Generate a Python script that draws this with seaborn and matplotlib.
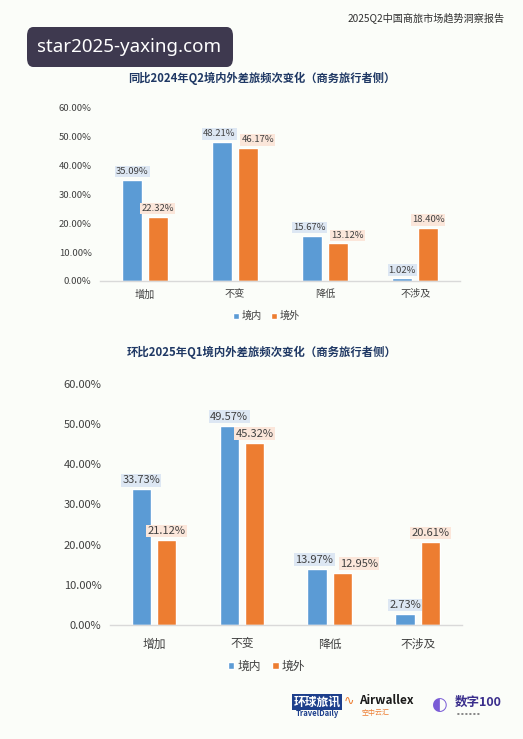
import matplotlib
matplotlib.use("Agg")
import matplotlib.pyplot as plt
from matplotlib.patches import FancyBboxPatch, Patch
import seaborn as sns
import pandas as pd

categories = ["增加", "不变", "降低", "不涉及"]
series_names = ["境内", "境外"]
yoy_domestic = [35.09, 48.21, 15.67, 1.02]
yoy_overseas = [22.32, 46.17, 13.12, 18.40]
qoq_domestic = [33.73, 49.57, 13.97, 2.73]
qoq_overseas = [21.12, 45.32, 12.95, 20.61]
y_ticks = [0, 10, 20, 30, 40, 50, 60]

title1 = "同比2024年Q2境内外差旅频次变化（商务旅行者侧）"
title2 = "环比2025年Q1境内外差旅频次变化（商务旅行者侧）"
header = "2025Q2中国商旅市场趋势洞察报告"
watermark = "star2025-yaxing.com"

BLUE = "#5B9BD5"
ORANGE = "#ED7D31"
BLUE_BG = "#DDE7F3"
ORANGE_BG = "#FBE6DA"
TEXT = "#404040"
BG = "#FBFDF9"

sns.set_theme(style="white")
plt.rcParams["font.family"] = ["Noto Sans CJK SC", "DejaVu Sans"]

fig = plt.figure(figsize=(5.23, 7.39), dpi=100, facecolor=BG)


def make_df(dom, ovs):
    rows = []
    for c, d, o in zip(categories, dom, ovs):
        rows.append({"cat": c, "series": series_names[0], "val": d})
        rows.append({"cat": c, "series": series_names[1], "val": o})
    return pd.DataFrame(rows)


def draw(rect, dom, ovs, title, fs_tick, fs_lab, fs_title, title_y, legend_y,
         shift_pt, lab_pad, xpad):
    ax = fig.add_axes(rect)
    ax.set_facecolor(BG)
    df = make_df(dom, ovs)
    sns.barplot(data=df, x="cat", y="val", hue="series", order=categories,
                hue_order=series_names, palette=[BLUE, ORANGE], width=0.57,
                gap=0.22, saturation=1, ax=ax, legend=False, errorbar=None)
    ax.set_ylim(0, 60)
    ax.set_xlim(-0.5, 3.5)
    ax.set_yticks(y_ticks)
    ax.set_yticklabels([f"{t:.2f}%" for t in y_ticks], fontsize=fs_tick, color=TEXT)
    ax.tick_params(axis="x", labelsize=fs_tick + 0.5, colors=TEXT, length=0, pad=xpad)
    ax.tick_params(axis="y", length=0, pad=6)
    ax.set_xlabel("")
    ax.set_ylabel("")
    for s in ["top", "right", "left"]:
        ax.spines[s].set_visible(False)
    ax.spines["bottom"].set_color("#D9D9D9")
    ax.spines["bottom"].set_linewidth(1)
    ax.grid(False)

    # data labels
    fig.canvas.draw()
    px_per_unit = ax.transData.transform((0, 1))[1] - ax.transData.transform((0, 0))[1]
    blue_bars = ax.containers[0]
    orange_bars = ax.containers[1]
    for i, (pb, po) in enumerate(zip(blue_bars, orange_bars)):
        vb, vo = dom[i], ovs[i]
        close = abs(vb - vo) * px_per_unit < 14
        for p, v, bg, dx in [(pb, vb, BLUE_BG, -2 if close else 0),
                             (po, vo, ORANGE_BG, shift_pt if close else 0)]:
            ax.annotate(f"{v:.2f}%", (p.get_x() + p.get_width() / 2, v),
                        xytext=(dx, lab_pad), textcoords="offset points",
                        ha="center", va="bottom", fontsize=fs_lab, color=TEXT,
                        bbox=dict(boxstyle="square,pad=0.12", fc=bg, ec="none"))

    fig.text(0.5, title_y, title, ha="center", va="center", fontsize=fs_title,
             fontweight="bold", color="#1F3864")
    handles = [Patch(facecolor=BLUE), Patch(facecolor=ORANGE)]
    fig.legend(handles, series_names, loc="center", bbox_to_anchor=(0.51, legend_y),
               ncol=2, frameon=False, fontsize=fs_tick + 0.5, handlelength=0.55,
               handleheight=0.55, handletextpad=0.3, columnspacing=0.9,
               labelcolor=TEXT)
    return ax


draw([0.191, 0.6198, 0.689, 0.2341], yoy_domestic, yoy_overseas, title1,
     fs_tick=6.8, fs_lab=6.8, fs_title=8.1, title_y=1 - 78 / 739,
     legend_y=1 - 316 / 739, shift_pt=7, lab_pad=2.5, xpad=6)
draw([0.210, 0.1543, 0.673, 0.3261], qoq_domestic, qoq_overseas, title2,
     fs_tick=8.0, fs_lab=8.0, fs_title=8.2, title_y=1 - 352 / 739,
     legend_y=1 - 666 / 739, shift_pt=12, lab_pad=3, xpad=9)

# header
fig.text(505 / 523, 1 - 18 / 739, header, ha="right", va="center",
         fontsize=7.3, color="#303030")

# watermark
wm = FancyBboxPatch((27 / 523, 1 - 67 / 739), 206 / 523, 40 / 739,
                    boxstyle="round,pad=0,rounding_size=0.012",
                    transform=fig.transFigure, fc="#3E394F", ec="none", zorder=5)
fig.patches.append(wm)
fig.text(129 / 523, 1 - 47.5 / 739, watermark, ha="center", va="center",
         fontsize=13.5, color="white", zorder=6,
         family=["Noto Sans", "DejaVu Sans"])

# footer logos (text approximations)
fig.text(317 / 523, 1 - 702 / 739, "环球旅讯", ha="center", va="center",
         fontsize=8.5, fontweight="bold", color="white",
         bbox=dict(boxstyle="square,pad=0.1", fc="#1D3F8C", ec="none"))
fig.text(317 / 523, 1 - 714 / 739, "TravelDaily", ha="center", va="center",
         fontsize=5.5, fontweight="bold", color="#1D3F8C")
fig.text(349 / 523, 1 - 701 / 739, "∿", ha="center", va="center",
         fontsize=9, color=ORANGE, family=["DejaVu Sans"])
fig.text(359 / 523, 1 - 701 / 739, "Airwallex", ha="left", va="center",
         fontsize=8.5, fontweight="bold", color="#1A1A1A")
fig.text(362 / 523, 1 - 713 / 739, "空中云汇", ha="left", va="center",
         fontsize=5, color=ORANGE)
fig.text(440 / 523, 1 - 705 / 739, "◐", ha="center", va="center",
         fontsize=13, color="#7A5CD6", family=["DejaVu Sans"])
fig.text(455 / 523, 1 - 702 / 739, "数字100", ha="left", va="center",
         fontsize=9, fontweight="bold", color="#3A2E8C")
fig.text(457 / 523, 1 - 714 / 739, "▪ ▪ ▪ ▪ ▪ ▪", ha="left", va="center",
         fontsize=3, color="#888888", family=["DejaVu Sans"])

fig.savefig("out.png", dpi=100, facecolor=BG)
